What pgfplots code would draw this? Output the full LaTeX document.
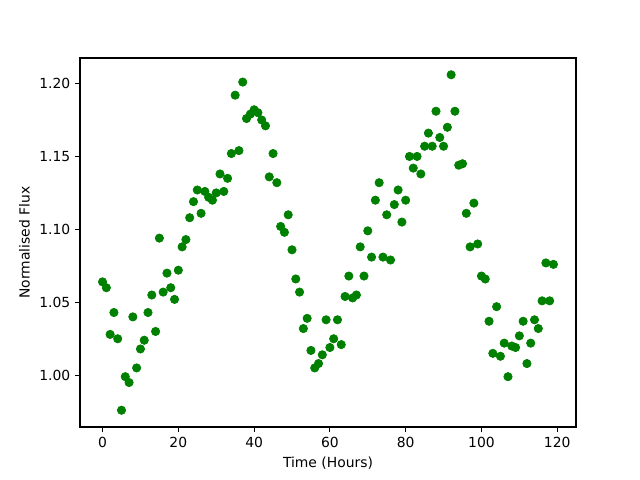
\documentclass[border=0pt]{standalone}
\usepackage{fontspec}
\setmainfont{DejaVu Sans}
\usepackage{pgfplots}
\pgfplotsset{compat=1.18}
\definecolor{mplgreen}{HTML}{008000}
\begin{document}
\begin{tikzpicture}
\begin{axis}[
  scale only axis,
  width=357.12pt, height=265.68pt,
  xmin=-5.95, xmax=124.95,
  ymin=0.9645, ymax=1.2175,
  axis line style={line width=0.8pt},
  tick style={line width=0.8pt, black},
  tick align=outside,
  major tick length=3.5pt,
  xtick pos=bottom, ytick pos=left,
  xtick={0,20,40,60,80,100,120},
  ytick={1.00,1.05,1.10,1.15,1.20},
  yticklabel style={/pgf/number format/.cd, fixed, fixed zerofill, precision=2},
  /pgf/number format/assume math mode=true,
  ticklabel style={font=\fontsize{10}{12}\selectfont},
  label style={font=\fontsize{10}{12}\selectfont},
  xlabel={Time (Hours)},
  ylabel={Normalised Flux},
  scaled y ticks=false,
]
\addplot[only marks, mark=*, mark size=3pt, line width=0.5pt, mplgreen, mark options={fill=mplgreen, draw=mplgreen}] coordinates {
(0,1.064) (1,1.060) (2,1.028) (3,1.043) (4,1.025) (5,0.976) (6,0.999) (7,0.995) (8,1.040) (9,1.005)
(10,1.018) (11,1.024) (12,1.043) (13,1.055) (14,1.030) (15,1.094) (16,1.057) (17,1.070) (18,1.060) (19,1.052)
(20,1.072) (21,1.088) (22,1.093) (23,1.108) (24,1.119) (25,1.127) (26,1.111) (27,1.126) (28,1.122) (29,1.120)
(30,1.125) (31,1.138) (32,1.126) (33,1.135) (34,1.152) (35,1.192) (36,1.154) (37,1.201) (38,1.176) (39,1.179)
(40,1.182) (41,1.180) (42,1.175) (43,1.171) (44,1.136) (45,1.152) (46,1.132) (47,1.102) (48,1.098) (49,1.110)
(50,1.086) (51,1.066) (52,1.057) (53,1.032) (54,1.039) (55,1.017) (56,1.005) (57,1.008) (58,1.014) (59,1.038)
(60,1.019) (61,1.025) (62,1.038) (63,1.021) (64,1.054) (65,1.068) (66,1.053) (67,1.055) (68,1.088) (69,1.068)
(70,1.099) (71,1.081) (72,1.120) (73,1.132) (74,1.081) (75,1.110) (76,1.079) (77,1.117) (78,1.127) (79,1.105)
(80,1.120) (81,1.150) (82,1.142) (83,1.150) (84,1.138) (85,1.157) (86,1.166) (87,1.157) (88,1.181) (89,1.163)
(90,1.157) (91,1.170) (92,1.206) (93,1.181) (94,1.144) (95,1.145) (96,1.111) (97,1.088) (98,1.118) (99,1.090)
(100,1.068) (101,1.066) (102,1.037) (103,1.015) (104,1.047) (105,1.013) (106,1.022) (107,0.999) (108,1.020) (109,1.019)
(110,1.027) (111,1.037) (112,1.008) (113,1.022) (114,1.038) (115,1.032) (116,1.051) (117,1.077) (118,1.051) (119,1.076)
};
\end{axis}
\path[use as bounding box] ([shift={(-57.6pt,-38.16pt)}]current axis.south west) rectangle ++(460.8pt,345.6pt);
\end{tikzpicture}
\end{document}
